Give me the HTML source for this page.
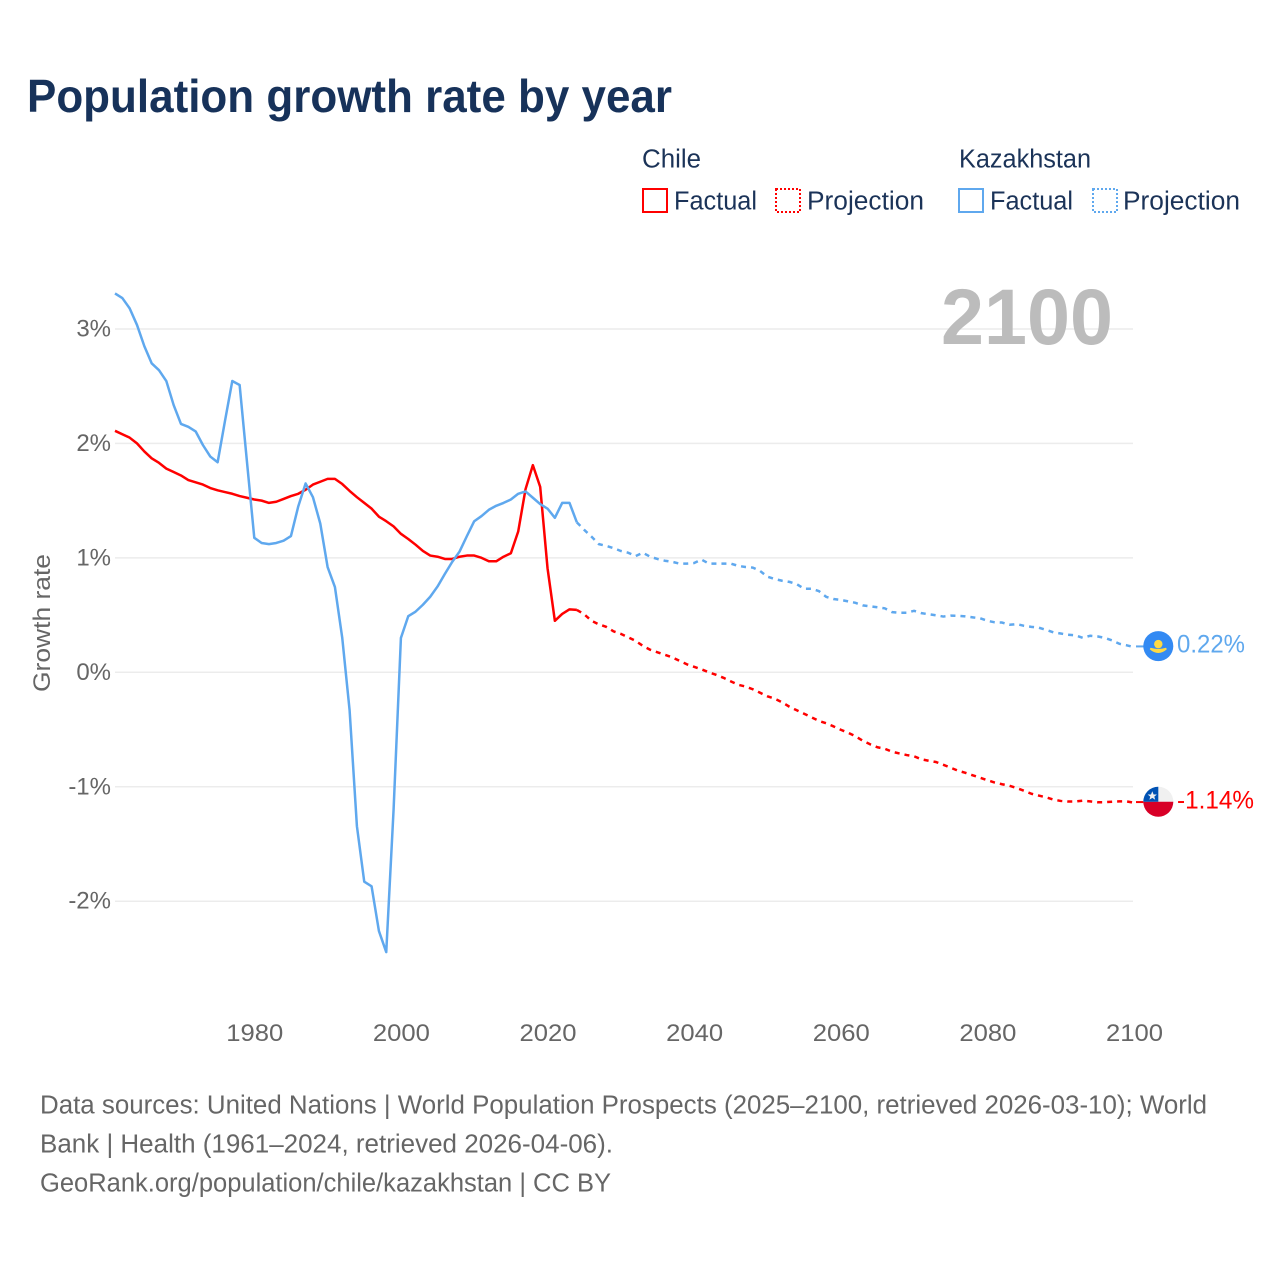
<!DOCTYPE html>
<html lang="en">
<head>
<meta charset="utf-8">
<title>Population growth rate by year</title>
<style>
  html, body { margin: 0; padding: 0; background: #fff; }
  svg { display: block; font-family: "Liberation Sans", sans-serif; }
</style>
</head>
<body>
<svg id="chart" xmlns="http://www.w3.org/2000/svg" width="1280" height="1280" viewBox="0 0 1280 1280">
  <rect x="0" y="0" width="1280" height="1280" fill="#ffffff"/>
  <text x="27" y="112" font-size="46" font-weight="700" fill="#17325a" textLength="645" lengthAdjust="spacingAndGlyphs">Population growth rate by year</text>

  <g font-size="25.5" fill="#1b3358">
    <text x="642" y="167.5" textLength="59" lengthAdjust="spacingAndGlyphs">Chile</text>
    <text x="959" y="167.5" textLength="132" lengthAdjust="spacingAndGlyphs">Kazakhstan</text>
    <rect x="643" y="189" width="24" height="23" fill="none" stroke="#ff0000" stroke-width="2"/>
    <text x="674" y="209.5" textLength="83" lengthAdjust="spacingAndGlyphs">Factual</text>
    <rect x="776" y="189" width="24" height="23" fill="none" stroke="#ff0000" stroke-width="2" stroke-dasharray="2 2"/>
    <text x="807" y="209.5" textLength="117" lengthAdjust="spacingAndGlyphs">Projection</text>
    <rect x="959" y="189" width="24" height="23" fill="none" stroke="#5fa8ee" stroke-width="2"/>
    <text x="990" y="209.5" textLength="83" lengthAdjust="spacingAndGlyphs">Factual</text>
    <rect x="1093" y="189" width="24" height="23" fill="none" stroke="#5fa8ee" stroke-width="2" stroke-dasharray="2 2"/>
    <text x="1123" y="209.5" textLength="117" lengthAdjust="spacingAndGlyphs">Projection</text>
  </g>

  <g id="grid"></g>
  <text x="941" y="344" font-size="79" font-weight="700" fill="#bcbcbc" textLength="172" lengthAdjust="spacingAndGlyphs">2100</text>
  <text transform="translate(50 692) rotate(-90)" font-size="24" fill="#666666" textLength="138" lengthAdjust="spacingAndGlyphs">Growth rate</text>
  <g id="y-ticks"></g>
  <g id="x-ticks"></g>
  <g id="series"></g>
  <g id="markers"></g>

  <g font-size="25.5" fill="#666666">
    <text x="40" y="1113.5" textLength="1167" lengthAdjust="spacingAndGlyphs">Data sources: United Nations | World Population Prospects (2025–2100, retrieved 2026-03-10); World</text>
    <text x="40" y="1152.5" textLength="573" lengthAdjust="spacingAndGlyphs">Bank | Health (1961–2024, retrieved 2026-04-06).</text>
    <text x="40" y="1191.5" textLength="571" lengthAdjust="spacingAndGlyphs">GeoRank.org/population/chile/kazakhstan | CC BY</text>
  </g>
</svg>
<script>
const factualStartYear = 1961;
const projectionStartYear = 2024;
const xDomain = [1961, 2100];
const xTickLabels = [1980, 2000, 2020, 2040, 2060, 2080, 2100];
const yTickValues = [3, 2, 1, 0, -1, -2];

const chileFactual = [2.11,2.08,2.05,2.00,1.93,1.87,1.83,1.78,1.75,1.72,1.68,1.66,1.64,1.61,1.59,1.575,1.56,1.54,1.525,1.51,1.50,1.48,1.49,1.515,1.54,1.56,1.595,1.64,1.665,1.69,1.69,1.645,1.585,1.53,1.48,1.43,1.36,1.32,1.275,1.21,1.165,1.115,1.06,1.02,1.01,0.99,0.99,1.01,1.02,1.02,1.00,0.97,0.97,1.01,1.04,1.23,1.60,1.81,1.62,0.91,0.45,0.51,0.55,0.545];
const kazakhstanFactual = [3.31,3.27,3.18,3.035,2.85,2.70,2.64,2.545,2.335,2.17,2.145,2.105,1.985,1.885,1.835,2.195,2.545,2.51,1.84,1.175,1.13,1.12,1.13,1.15,1.19,1.45,1.65,1.53,1.30,0.92,0.745,0.30,-0.33,-1.345,-1.83,-1.87,-2.26,-2.445,-1.2,0.30,0.49,0.53,0.59,0.66,0.75,0.86,0.965,1.055,1.19,1.32,1.365,1.42,1.455,1.48,1.51,1.56,1.58,1.525,1.47,1.43,1.35,1.48,1.48,1.31];
const chileProjection = [0.545,0.507,0.450,0.419,0.397,0.358,0.336,0.306,0.275,0.231,0.197,0.175,0.153,0.131,0.100,0.070,0.048,0.026,0,-0.022,-0.048,-0.079,-0.109,-0.124,-0.148,-0.179,-0.210,-0.231,-0.262,-0.301,-0.332,-0.362,-0.393,-0.424,-0.445,-0.472,-0.502,-0.528,-0.559,-0.598,-0.629,-0.655,-0.668,-0.694,-0.709,-0.723,-0.734,-0.760,-0.773,-0.784,-0.808,-0.834,-0.860,-0.878,-0.900,-0.921,-0.943,-0.963,-0.978,-0.991,-1.011,-1.035,-1.061,-1.077,-1.092,-1.112,-1.124,-1.129,-1.129,-1.122,-1.128,-1.135,-1.135,-1.131,-1.128,-1.128,-1.14];
const kazakhstanProjection = [1.31,1.245,1.185,1.12,1.105,1.085,1.06,1.045,1.015,1.045,1.01,0.99,0.975,0.965,0.95,0.95,0.955,0.985,0.95,0.95,0.95,0.95,0.93,0.92,0.915,0.885,0.835,0.815,0.80,0.79,0.77,0.73,0.73,0.71,0.66,0.64,0.633,0.620,0.607,0.585,0.576,0.568,0.559,0.526,0.520,0.520,0.537,0.517,0.507,0.498,0.487,0.495,0.493,0.489,0.480,0.472,0.450,0.437,0.435,0.415,0.421,0.406,0.397,0.390,0.371,0.349,0.339,0.328,0.323,0.301,0.319,0.314,0.301,0.279,0.249,0.236,0.22];

const NS = 'http://www.w3.org/2000/svg';
const plotLeft = 115, plotRight = 1134, zeroY = 672.3, pxPerPercent = 114.45;
const redColor = '#ff0000', blueColor = '#5fa8ee';

function xScale(year) {
  return plotLeft + (year - xDomain[0]) / (xDomain[1] - xDomain[0]) * (plotRight - plotLeft);
}
function yScale(value) {
  return zeroY - value * pxPerPercent;
}
function make(tag, parentId) {
  const el = document.createElementNS(NS, tag);
  (typeof parentId === 'string' ? document.getElementById(parentId) : parentId).appendChild(el);
  return el;
}
function pathFrom(values, startYear) {
  return values.map(function (v, i) {
    return (i ? 'L' : 'M') + xScale(startYear + i).toFixed(2) + ' ' + yScale(v).toFixed(2);
  }).join(' ');
}

yTickValues.forEach(function (v) {
  const line = make('line', 'grid');
  
  
  line.setAttribute('x1', plotLeft);
  line.setAttribute('x2', 1133);
  line.setAttribute('y1', yScale(v));
  line.setAttribute('y2', yScale(v));
  line.setAttribute('stroke', '#ececec');
  line.setAttribute('stroke-width', '1.5');

  const label = make('text', 'y-ticks');
  
  
  label.setAttribute('x', 111);
  label.setAttribute('y', yScale(v) + 7.5);
  label.setAttribute('text-anchor', 'end');
  label.setAttribute('font-size', '24');
  label.setAttribute('fill', '#666666');
  label.textContent = v + '%';
});

xTickLabels.forEach(function (year) {
  const label = make('text', 'x-ticks');
  
  
  label.setAttribute('x', xScale(year) - 28);
  label.setAttribute('y', 1041);
  label.setAttribute('font-size', '24');
  label.setAttribute('fill', '#666666');
  label.setAttribute('textLength', '57');
  label.setAttribute('lengthAdjust', 'spacingAndGlyphs');
  label.textContent = String(year);
});

function drawLine(values, startYear, color, dashed, name) {
  const p = make('path', 'series');
  
  
  p.setAttribute('d', pathFrom(values, startYear));
  p.setAttribute('fill', 'none');
  p.setAttribute('stroke', color);
  p.setAttribute('stroke-width', '2.5');
  p.setAttribute('stroke-linejoin', 'round');
  if (dashed) p.setAttribute('stroke-dasharray', '5 5');
}
drawLine(chileProjection, projectionStartYear, redColor, true, 'chile-projection-line');
drawLine(kazakhstanProjection, projectionStartYear, blueColor, true, 'kazakhstan-projection-line');
drawLine(chileFactual, factualStartYear, redColor, false, 'chile-factual-line');
drawLine(kazakhstanFactual, factualStartYear, blueColor, false, 'kazakhstan-factual-line');

function drawEnd(values, color, seriesName) {
  const last = values[values.length - 1];
  const y = yScale(last);

  const connector = make('line', 'markers');
  
  
  connector.setAttribute('x1', xScale(xDomain[1]) + 2);
  connector.setAttribute('x2', 1145);
  connector.setAttribute('y1', y - 0.7);
  connector.setAttribute('y2', y - 0.7);
  connector.setAttribute('stroke', color);
  connector.setAttribute('stroke-width', '2');

  const label = make('text', 'markers');
  
  
  label.setAttribute('x', 1177);
  label.setAttribute('y', y + 5.5);
  label.setAttribute('font-size', '25');
  label.setAttribute('fill', color);
  label.setAttribute('textLength', last < 0 ? '77' : '68');
  label.setAttribute('lengthAdjust', 'spacingAndGlyphs');
  label.textContent = last.toFixed(2) + '%';

  const g = make('g', 'markers');
  
  
  g.setAttribute('transform', 'translate(1158.3 ' + (y - 1).toFixed(2) + ')');
  return g;
}

const kzFlag = drawEnd(kazakhstanProjection, blueColor, 'kazakhstan');
kzFlag.innerHTML =
  '<circle r="15" fill="#338af3"/>' +
  '<circle cx="0" cy="-2" r="4.2" fill="#ffda44"/>' +
  '<path d="M-8 2.5 Q0 9.5 8 2.5 Q0 5 -8 2.5 Z" fill="#ffda44" stroke="#ffda44" stroke-width="1.8"/>';

const clFlag = drawEnd(chileProjection, redColor, 'chile');
clFlag.innerHTML =
  '<circle r="15" fill="#f0f0f0"/>' +
  '<path d="M-15 0 A15 15 0 0 0 15 0 Z" fill="#d80027"/>' +
  '<path d="M0 0 V-15 A15 15 0 0 0 -15 0 Z" fill="#0052b4"/>' +
  '<polygon points="-6,-10.5 -4.7,-7.3 -1.4,-7.3 -4,-5.2 -3.1,-2 -6,-3.9 -8.9,-2 -8,-5.2 -10.6,-7.3 -7.3,-7.3" fill="#f0f0f0"/>';
</script>
</body>
</html>
